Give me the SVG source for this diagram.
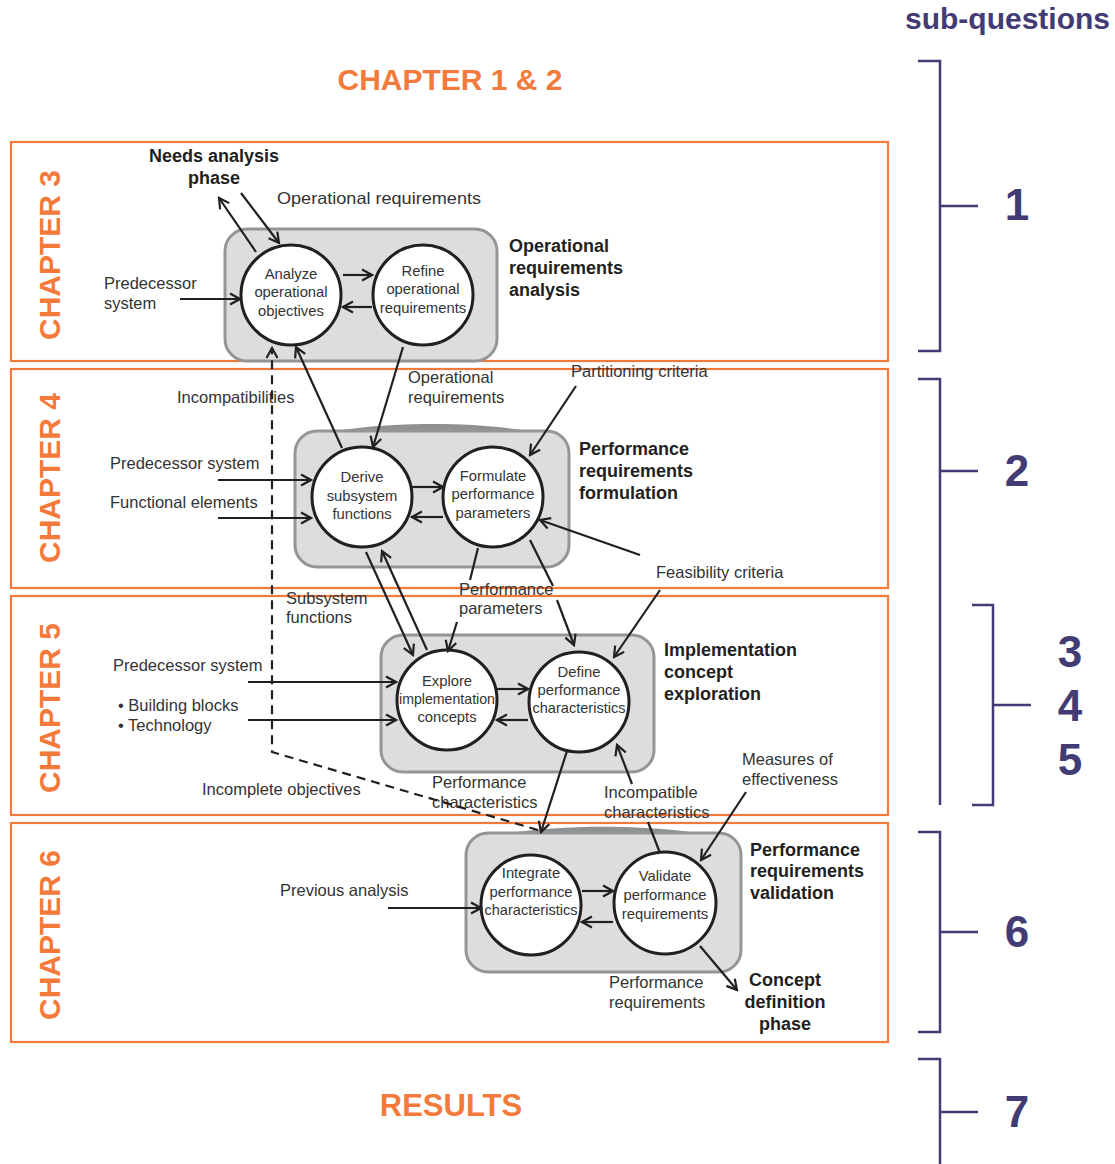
<svg xmlns="http://www.w3.org/2000/svg" width="1115" height="1164" viewBox="0 0 1115 1164">
<defs>
<marker id="ah" markerUnits="userSpaceOnUse" markerWidth="14" markerHeight="14" viewBox="0 0 14 14" refX="12" refY="7" orient="auto">
<path d="M2,1.5 L12,7 L2,12.5" fill="none" stroke="#231F20" stroke-width="2.2"/>
</marker>
<style>
.ch{fill:none;stroke:#F47A3C;stroke-width:2.2}
.chl{font-family:"Liberation Sans",Arial,sans-serif;font-weight:bold;font-size:30px;fill:#F47A3C}
.sq{font-family:"Liberation Sans",Arial,sans-serif;font-weight:bold;fill:#433C74}
.br{fill:none;stroke:#433C74;stroke-width:2.5}
.box{fill:#DCDDDE;stroke:#939597;stroke-width:3}
.lip{fill:#8E9092}
.cir{fill:#FFFFFF;stroke:#231F20;stroke-width:3}
.ct{font-family:"Liberation Sans",Arial,sans-serif;font-size:14.8px;fill:#333333;text-anchor:middle}
.lb{font-family:"Liberation Sans",Arial,sans-serif;font-size:16.5px;fill:#333333}
.bl{font-family:"Liberation Sans",Arial,sans-serif;font-size:18px;font-weight:bold;fill:#231F20}
.ar{fill:none;stroke:#231F20;stroke-width:2.2;marker-end:url(#ah)}
.ln{fill:none;stroke:#231F20;stroke-width:2.2}
.ds{fill:none;stroke:#231F20;stroke-width:2.2;stroke-dasharray:9,6;marker-end:url(#ah)}
</style>
</defs>

<g id="chapters">
<rect class="ch" x="11" y="142" width="877" height="219"/>
<rect class="ch" x="11" y="369" width="877" height="219"/>
<rect class="ch" x="11" y="596" width="877" height="219"/>
<rect class="ch" x="11" y="823" width="877" height="219"/>
<text class="chl" text-anchor="middle" transform="translate(60,255) rotate(-90)">CHAPTER 3</text>
<text class="chl" text-anchor="middle" transform="translate(60,478) rotate(-90)">CHAPTER 4</text>
<text class="chl" text-anchor="middle" transform="translate(60,708) rotate(-90)">CHAPTER 5</text>
<text class="chl" text-anchor="middle" transform="translate(60,935) rotate(-90)">CHAPTER 6</text>
<text class="chl" x="450" y="90" text-anchor="middle">CHAPTER 1 &amp; 2</text>
<text class="chl" x="451" y="1116" text-anchor="middle" style="font-size:31px">RESULTS</text>
</g>

<g id="subquestions">
<text class="sq" x="1110" y="29" font-size="30" text-anchor="end">sub-questions</text>
<path class="br" d="M918,61 H940 V351 H918 M940,206 H978"/>
<path class="br" d="M918,379 H940 V805 M940,471 H978"/>
<path class="br" d="M972,605 H993 V805 H972 M993,705 H1031"/>
<path class="br" d="M918,832 H940 V1032 H918 M940,932 H978"/>
<path class="br" d="M918,1059 H940 V1164 M940,1112 H978"/>
<text class="sq" font-size="44" text-anchor="middle" x="1017" y="220">1</text>
<text class="sq" font-size="44" text-anchor="middle" x="1017" y="486">2</text>
<text class="sq" font-size="44" text-anchor="middle" x="1070" y="667">3</text>
<text class="sq" font-size="44" text-anchor="middle" x="1070" y="721">4</text>
<text class="sq" font-size="44" text-anchor="middle" x="1070" y="775">5</text>
<text class="sq" font-size="44" text-anchor="middle" x="1017" y="947">6</text>
<text class="sq" font-size="44" text-anchor="middle" x="1017" y="1127">7</text>
</g>

<g id="phase-operational">
<rect class="box" x="225" y="229" width="272" height="132" rx="22"/>
<text class="bl" x="509" y="252">Operational</text>
<text class="bl" x="509" y="274">requirements</text>
<text class="bl" x="509" y="296">analysis</text>
</g>
<g id="phase-formulation">
<path class="lip" d="M305,439 C360,419 505,419 560,439 Z"/>
<rect class="box" x="295" y="431" width="274" height="136" rx="22"/>
<text class="bl" x="579" y="455">Performance</text>
<text class="bl" x="579" y="477">requirements</text>
<text class="bl" x="579" y="499">formulation</text>
</g>
<g id="phase-exploration">
<rect class="box" x="381" y="635" width="273" height="137" rx="22"/>
<text class="bl" x="664" y="656">Implementation</text>
<text class="bl" x="664" y="678">concept</text>
<text class="bl" x="664" y="700">exploration</text>
</g>
<g id="phase-validation">
<path class="lip" d="M476,841 C530,822 677,822 731,841 Z"/>
<rect class="box" x="466" y="833" width="275" height="139" rx="22"/>
<text class="bl" x="750" y="856">Performance</text>
<text class="bl" x="750" y="877">requirements</text>
<text class="bl" x="750" y="899">validation</text>
</g>

<g id="n-analyze">
<circle class="cir" cx="291" cy="295" r="50"/>
<text class="ct" x="291" y="279">Analyze</text>
<text class="ct" x="291" y="297">operational</text>
<text class="ct" x="291" y="316">objectives</text>
</g>
<g id="n-refine">
<circle class="cir" cx="423" cy="295" r="50"/>
<text class="ct" x="423" y="276">Refine</text>
<text class="ct" x="423" y="294">operational</text>
<text class="ct" x="423" y="313">requirements</text>
</g>
<g id="n-derive">
<circle class="cir" cx="362" cy="497" r="50"/>
<text class="ct" x="362" y="482">Derive</text>
<text class="ct" x="362" y="501">subsystem</text>
<text class="ct" x="362" y="519">functions</text>
</g>
<g id="n-formulate">
<circle class="cir" cx="493" cy="497" r="50"/>
<text class="ct" x="493" y="481">Formulate</text>
<text class="ct" x="493" y="499">performance</text>
<text class="ct" x="493" y="518">parameters</text>
</g>
<g id="n-explore">
<circle class="cir" cx="447" cy="700" r="50"/>
<text class="ct" x="447" y="686">Explore</text>
<text class="ct" x="447" y="704" textLength="96" lengthAdjust="spacingAndGlyphs">implementation</text>
<text class="ct" x="447" y="722">concepts</text>
</g>
<g id="n-define">
<circle class="cir" cx="579" cy="702" r="50"/>
<text class="ct" x="579" y="677">Define</text>
<text class="ct" x="579" y="695">performance</text>
<text class="ct" x="579" y="713" textLength="93" lengthAdjust="spacingAndGlyphs">characteristics</text>
</g>
<g id="n-integrate">
<circle class="cir" cx="531" cy="905" r="50"/>
<text class="ct" x="531" y="878">Integrate</text>
<text class="ct" x="531" y="897">performance</text>
<text class="ct" x="531" y="915" textLength="93" lengthAdjust="spacingAndGlyphs">characteristics</text>
</g>
<g id="n-validate">
<circle class="cir" cx="665" cy="903" r="51"/>
<text class="ct" x="665" y="881">Validate</text>
<text class="ct" x="665" y="900">performance</text>
<text class="ct" x="665" y="919">requirements</text>
</g>

<g id="labels">
<text class="bl" x="214" y="162" text-anchor="middle">Needs analysis</text>
<text class="bl" x="214" y="184" text-anchor="middle">phase</text>
<text class="lb" x="277" y="204" textLength="204" lengthAdjust="spacingAndGlyphs">Operational requirements</text>
<text class="lb" x="104" y="289">Predecessor</text>
<text class="lb" x="104" y="309">system</text>
<text class="lb" x="177" y="403">Incompatibilities</text>
<text class="lb" x="408" y="383">Operational</text>
<text class="lb" x="408" y="403">requirements</text>
<text class="lb" x="571" y="377">Partitioning criteria</text>
<text class="lb" x="110" y="469">Predecessor system</text>
<text class="lb" x="110" y="508">Functional elements</text>
<text class="lb" x="656" y="578">Feasibility criteria</text>
<text class="lb" x="286" y="604">Subsystem</text>
<text class="lb" x="286" y="623">functions</text>
<text class="lb" x="459" y="595">Performance</text>
<text class="lb" x="459" y="614">parameters</text>
<text class="lb" x="113" y="671">Predecessor system</text>
<text class="lb" x="118" y="711">• Building blocks</text>
<text class="lb" x="118" y="731">• Technology</text>
<text class="lb" x="202" y="795">Incomplete objectives</text>
<text class="lb" x="432" y="788">Performance</text>
<text class="lb" x="432" y="808">characteristics</text>
<text class="lb" x="604" y="798">Incompatible</text>
<text class="lb" x="604" y="818">characteristics</text>
<text class="lb" x="742" y="765">Measures of</text>
<text class="lb" x="742" y="785">effectiveness</text>
<text class="lb" x="280" y="896">Previous analysis</text>
<text class="lb" x="609" y="988">Performance</text>
<text class="lb" x="609" y="1008">requirements</text>
<text class="bl" x="785" y="986" text-anchor="middle">Concept</text>
<text class="bl" x="785" y="1008" text-anchor="middle">definition</text>
<text class="bl" x="785" y="1030" text-anchor="middle">phase</text>
</g>

<g id="connectors">
<path class="ar" d="M256,252 L219,198"/>
<path class="ar" d="M241,193 L279,243"/>
<path class="ar" d="M180,299 H240"/>
<path class="ar" d="M343,275 H372"/>
<path class="ar" d="M372,307 H343"/>
<path class="ar" d="M342,448 L296,347"/>
<path class="ar" d="M403,347 L373,447"/>
<path class="ds" d="M538,830 L272,752 V348"/>
<path class="ar" d="M576,386 L530,455"/>
<path class="ar" d="M218,480 H311"/>
<path class="ar" d="M218,518 H311"/>
<path class="ar" d="M412,487 H443"/>
<path class="ar" d="M443,517 H412"/>
<path class="ar" d="M640,555 L540,520"/>
<path class="ar" d="M366,552 L413,655"/>
<path class="ar" d="M427,650 L382,551"/>
<path class="ln" d="M478,548 L470,580"/>
<path class="ar" d="M457,622 L448,651"/>
<path class="ln" d="M530,540 L553,586"/>
<path class="ar" d="M557,600 L574,645"/>
<path class="ar" d="M660,590 L614,657"/>
<path class="ar" d="M248,682 H396"/>
<path class="ar" d="M248,720 H396"/>
<path class="ar" d="M497,689 H528"/>
<path class="ar" d="M528,720 H497"/>
<path class="ar" d="M567,751 L541,832"/>
<path class="ar" d="M632,784 L617,745"/>
<path class="ln" d="M660,853 L648,822"/>
<path class="ar" d="M746,792 L701,860"/>
<path class="ar" d="M388,908 H481"/>
<path class="ar" d="M582,891 H613"/>
<path class="ar" d="M613,922 H582"/>
<path class="ar" d="M700,946 L737,990"/>
</g>
</svg>
